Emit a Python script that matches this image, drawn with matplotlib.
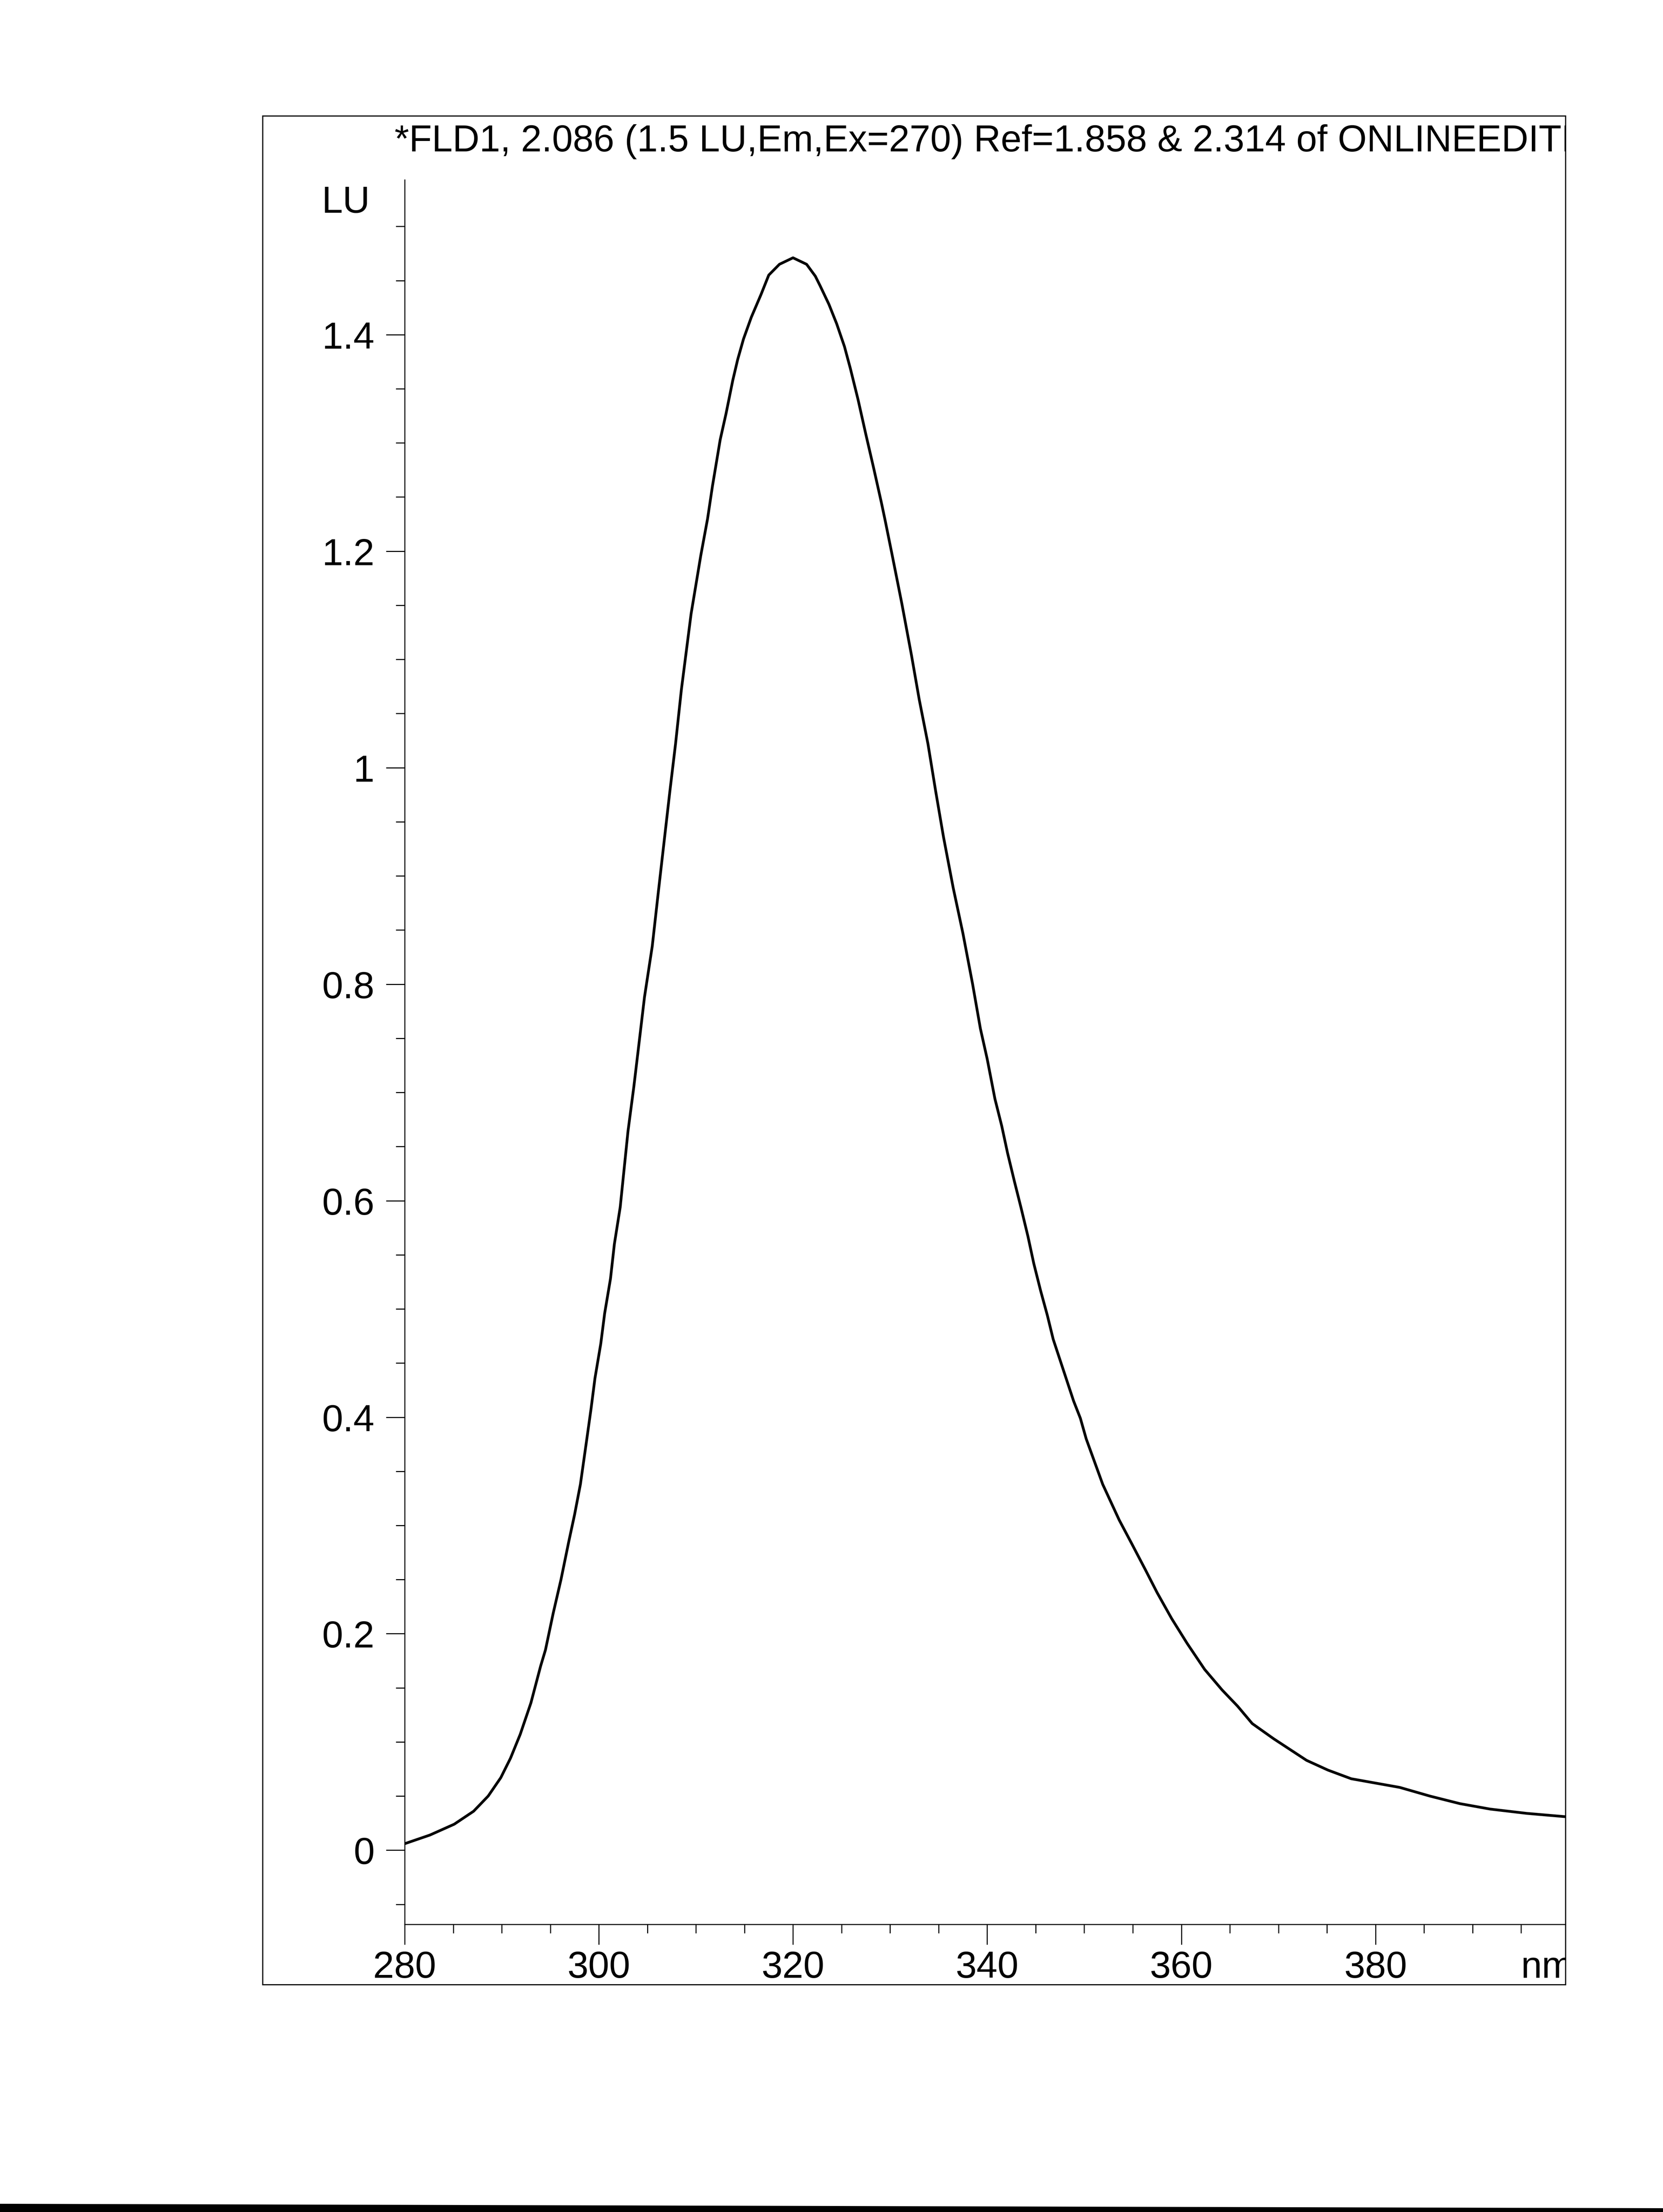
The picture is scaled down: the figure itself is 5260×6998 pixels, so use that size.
import matplotlib
matplotlib.use('Agg')
import matplotlib.pyplot as plt
from matplotlib.patches import Rectangle, Polygon
from matplotlib.ticker import FixedLocator, FixedFormatter, MultipleLocator
from matplotlib.transforms import Bbox, TransformedBbox

plt.rcParams['font.family'] = ['Liberation Sans', 'DejaVu Sans']

# emission spectrum
wavelength = [280.0, 282.6, 285.1, 287.1, 288.6, 289.9, 290.9, 291.9, 293.0, 294.0,
              294.5, 295.3, 296.1, 296.9, 297.5, 298.1, 298.7, 299.2, 299.6, 300.2,
              300.6, 301.2, 301.6, 302.2, 302.6, 303.0, 303.6, 304.0, 304.7, 305.5,
              306.1, 306.7, 307.3, 307.9, 308.5, 309.5, 310.5, 311.2, 311.7, 312.5,
              313.1, 313.8, 314.3, 314.9, 315.7, 316.7, 317.5, 318.6, 320.0, 321.4,
              322.3, 322.8, 323.7, 324.5, 325.3, 325.9, 326.7, 327.5, 328.3, 329.1,
              329.5, 330.2, 331.2, 332.2, 333.0, 333.9, 334.7, 335.5, 336.5, 337.5,
              338.5, 339.3, 340.0, 340.8, 341.5, 342.1, 342.8, 343.5, 344.2, 344.8,
              345.5, 346.2, 346.8, 347.5, 348.2, 348.9, 349.6, 350.2, 351.9, 353.6,
              354.9, 356.3, 357.5, 359.0, 360.6, 362.4, 364.2, 365.8, 367.3, 369.5,
              372.9, 375.1, 377.5, 382.5, 385.6, 388.7, 391.8, 395.6, 399.5]
intensity = [0.006, 0.014, 0.024, 0.036, 0.050, 0.067, 0.085, 0.107, 0.136, 0.170,
             0.185, 0.219, 0.250, 0.285, 0.310, 0.338, 0.376, 0.408, 0.436, 0.468,
             0.496, 0.528, 0.560, 0.594, 0.629, 0.664, 0.705, 0.735, 0.788, 0.835,
             0.883, 0.930, 0.977, 1.022, 1.072, 1.142, 1.196, 1.230, 1.260, 1.303,
             1.327, 1.358, 1.377, 1.396, 1.416, 1.437, 1.455, 1.465, 1.471, 1.465,
             1.454, 1.445, 1.428, 1.410, 1.389, 1.369, 1.340, 1.308, 1.277, 1.245,
             1.228, 1.197, 1.152, 1.104, 1.063, 1.022, 0.978, 0.936, 0.889, 0.847,
             0.800, 0.759, 0.731, 0.694, 0.669, 0.644, 0.618, 0.593, 0.567, 0.542,
             0.517, 0.494, 0.472, 0.453, 0.434, 0.415, 0.399, 0.380, 0.338, 0.305,
             0.283, 0.259, 0.238, 0.214, 0.191, 0.167, 0.148, 0.133, 0.117, 0.103,
             0.083, 0.074, 0.066, 0.058, 0.050, 0.043, 0.038, 0.034, 0.031]

y_major = [0, 0.2, 0.4, 0.6, 0.8, 1.0, 1.2, 1.4]
y_labels = ['0', '0.2', '0.4', '0.6', '0.8', '1', '1.2', '1.4']
x_major = [280, 300, 320, 340, 360, 380]
x_labels = ['280', '300', '320', '340', '360', '380']

title = '*FLD1, 2.086 (1.5 LU,Em,Ex=270) Ref=1.858 & 2.314 of ONLINEEDITE'

W, H = 5260, 6999
fig = plt.figure(figsize=(W / 100, H / 100), dpi=100)
fig.patch.set_facecolor('white')

# plot area in pixels (y from bottom)
ax_l, ax_r = 1280, 4951
ax_b, ax_t = 910, 6429
ax = fig.add_axes([ax_l / W, ax_b / H, (ax_r - ax_l) / W, (ax_t - ax_b) / H])
ax.set_xlim(280, 399.55)
ax.set_ylim(-0.0685, 1.543)
ax.patch.set_alpha(0)

ax.plot(wavelength, intensity, color='black', lw=6.2, solid_joinstyle='round')

for s in ['top', 'right']:
    ax.spines[s].set_visible(False)
for s in ['left', 'bottom']:
    ax.spines[s].set_linewidth(2.4)

ax.yaxis.set_major_locator(FixedLocator(y_major))
ax.yaxis.set_major_formatter(FixedFormatter(y_labels))
ax.yaxis.set_minor_locator(MultipleLocator(0.05))
ax.xaxis.set_major_locator(FixedLocator(x_major))
ax.xaxis.set_major_formatter(FixedFormatter(x_labels))
ax.xaxis.set_minor_locator(MultipleLocator(5))

ax.tick_params(axis='y', which='major', direction='out', length=42.5, width=2.4,
               pad=26, labelsize=86)
ax.tick_params(axis='y', which='minor', direction='out', length=20, width=2.4)
ax.tick_params(axis='x', which='major', direction='out', length=46, width=2.4,
               pad=13, labelsize=86)
ax.tick_params(axis='x', which='minor', direction='out', length=20, width=2.4)

ax.annotate('LU', xy=(0, 1.513), xycoords=('axes fraction', 'data'),
            xytext=(-79, 0), textcoords='offset points',
            ha='right', va='baseline', fontsize=86)

# outer frame
fr_l, fr_r, fr_b, fr_t = 831, 4951.5, 719, 6630.6
fig.add_artist(Rectangle((fr_l / W, fr_b / H), (fr_r - fr_l) / W, (fr_t - fr_b) / H,
                         transform=fig.transFigure, fill=False, lw=2.6,
                         ec='black'))
clip = TransformedBbox(Bbox.from_extents(fr_l / W, fr_b / H, fr_r / W, fr_t / H),
                       fig.transFigure)

t = fig.text(1248 / W, 6520 / H, title, ha='left', va='baseline', fontsize=85)
t.set_clip_box(clip)
t.set_clip_on(True)

nm = fig.text(4810 / W, 742 / H, 'nm', ha='left', va='baseline', fontsize=86)
nm.set_clip_box(clip)
nm.set_clip_on(True)

# dark edge of the scanned page
fig.add_artist(Polygon([(0, 0), (0, 26 / H), (1, 12 / H), (1, 0)], closed=True,
                       transform=fig.transFigure, fc='black', ec='none'))

fig.savefig('out.png', dpi=100)
